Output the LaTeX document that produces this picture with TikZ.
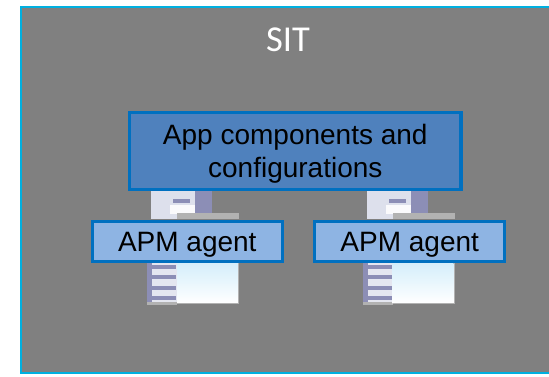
\documentclass[tikz,border=0pt]{standalone}
\usepackage{fontspec}
\usepackage{tikz}
\setmainfont{Liberation Sans}
\newfontfamily\titlefont{Carlito}
\definecolor{panelgrey}{HTML}{808080}
\definecolor{panelline}{HTML}{00B0E0}
\definecolor{boxline}{HTML}{0070C0}
\definecolor{appfill}{HTML}{4F81BD}
\definecolor{agentfill}{HTML}{8EB4E3}
\definecolor{towerdark}{HTML}{8C8EB6}
\definecolor{towerlight}{HTML}{DDE0EC}
\definecolor{pagetop}{HTML}{D4EEFB}
\begin{document}
\begin{tikzpicture}[x=1pt,y=-1pt,
    app/.style = {draw=boxline, line width=3.4pt, fill=appfill, align=center, minimum width=331.6pt, minimum height=76.6pt, inner sep=0pt, text height=56pt, text depth=4pt, font=\fontsize{28}{33}\selectfont},
    agent/.style = {draw=boxline, line width=3.4pt, fill=agentfill, minimum width=189.9pt, minimum height=39.9pt, inner sep=0pt, text height=24pt, text depth=3.2pt, font=\fontsize{28}{33}\selectfont},
    title/.style = {text=white, anchor=base, inner sep=0pt, font=\titlefont\fontsize{36.5}{40}\selectfont}]
                \useasboundingbox (0,0) rectangle (549,376);
                \fill[panelgrey] (21,7) rectangle (549,373);
                \draw[panelline, line width=2.2pt] (549,7) -- (21,7) -- (21,373) -- (549,373);
                \node[title] (sit) at (288,51.7) {SIT};
                % server icons
                \foreach \ox in {0,215.7} {
                    \begin{scope}[shift={(\ox,0)}]
                        \fill[towerlight] (151,191) rectangle (195,219);
                        \fill[towerdark] (195,191) rectangle (212,214);
                        \fill[white!85!towerlight] (170,205) rectangle (195,214);
                        \fill[towerdark] (173,199) rectangle (190,203);
                        \fill[gray!60] (177,213) rectangle (239,219);
                        \fill[towerlight!80!white] (147,263) rectangle (177,304);
                        \fill[towerdark] (147,263) rectangle (152,303);
                        \foreach \sy in {265,275,286,296}
                            \fill[towerdark] (152,\sy) rectangle (176,\sy+4);
                        \fill[gray!60] (147,302) rectangle (177,304.5);
                        \shade[top color=pagetop, bottom color=white] (177,263) rectangle (238,303);
                        \draw[gray!60, line width=1pt] (177,303.5) -- (238.5,303.5) -- (238.5,263);
                    \end{scope}
                }
                \node[app] (app) at (295.3,151) {App components and\\configurations};
                \node[agent] (agent1) at (187.3,241.3) {APM agent};
                \node[agent] (agent2) [right of = agent1, node distance=222.4pt] {APM agent};
            \end{tikzpicture}
\end{document}
